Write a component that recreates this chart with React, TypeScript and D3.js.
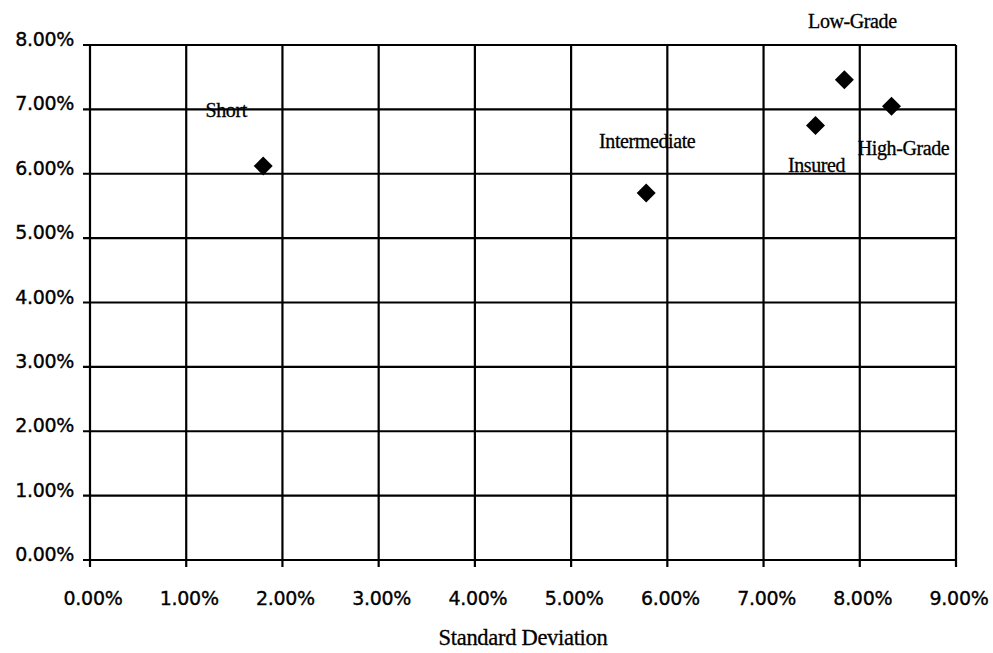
import React from "react";
import * as d3 from "d3";

const names = ["Short", "Intermediate", "Insured", "High-Grade", "Low-Grade"];
const stdDev = [1.8, 5.78, 7.54, 8.33, 7.84];
const returns = [6.12, 5.7, 6.75, 7.05, 7.46];
const xTicks = [0, 1, 2, 3, 4, 5, 6, 7, 8, 9];
const yTicks = [0, 1, 2, 3, 4, 5, 6, 7, 8];
const xTitle = "Standard Deviation";

// label placement relative to marker (px)
const labelDx = [-37, 1, 1, 12, 8];
const labelDy = [-49, -45, 47, 49, -52];

const W = 993;
const H = 653;
const L = 90, R = 956, T = 45, B = 560;

export default function App() {
  const x = d3.scaleLinear().domain([0, 9]).range([L, R]);
  const y = d3.scaleLinear().domain([0, 8]).range([B, T]);
  const fmt = (v: number) => v.toFixed(2) + "%";
  const diamond = (cx: number, cy: number) => {
    const s = 9.5;
    return `M${cx},${cy - s}L${cx + s},${cy}L${cx},${cy + s}L${cx - s},${cy}Z`;
  };
  const tickFont = {
    fontFamily: "'DejaVu Sans', sans-serif",
    fontSize: 19,
    letterSpacing: -0.3,
    stroke: "#000",
    strokeWidth: 0.35,
  } as const;
  const serif = "'Liberation Serif', 'Times New Roman', serif";

  return (
    <svg width={W} height={H} style={{ position: "absolute", left: 0, top: 0, background: "#fff" }}>
      <rect x={0} y={0} width={W} height={H} fill="#fff" />
      {xTicks.map((t) => (
        <g key={"x" + t}>
          <line x1={x(t)} x2={x(t)} y1={T} y2={B + 7} stroke="#000" strokeWidth={2.2} />
          <text x={x(t) + 3} y={605} textAnchor="middle" {...tickFont} fill="#000">
            {fmt(t)}
          </text>
        </g>
      ))}
      {yTicks.map((t) => (
        <g key={"y" + t}>
          <line x1={L - 7} x2={R} y1={y(t)} y2={y(t)} stroke="#000" strokeWidth={2.2} />
          <text x={74} y={y(t) + 1} textAnchor="end" {...tickFont} fill="#000">
            {fmt(t)}
          </text>
        </g>
      ))}
      {names.map((n, i) => (
        <path key={"m" + n} d={diamond(x(stdDev[i]), y(returns[i]))} fill="#000" />
      ))}
      {names.map((n, i) => (
        <text
          key={"l" + n}
          x={x(stdDev[i]) + labelDx[i]}
          y={y(returns[i]) + labelDy[i]}
          textAnchor="middle"
          fontFamily={serif}
          fontSize={20}
          letterSpacing={-0.4}
          fill="#000"
          stroke="#000"
          strokeWidth={0.3}
        >
          {n}
        </text>
      ))}
      <text
        x={(L + R) / 2}
        y={645}
        textAnchor="middle"
        fontFamily={serif}
        fontSize={22.5}
        letterSpacing={-0.3}
        fill="#000"
        stroke="#000"
        strokeWidth={0.3}
      >
        {xTitle}
      </text>
    </svg>
  );
}
